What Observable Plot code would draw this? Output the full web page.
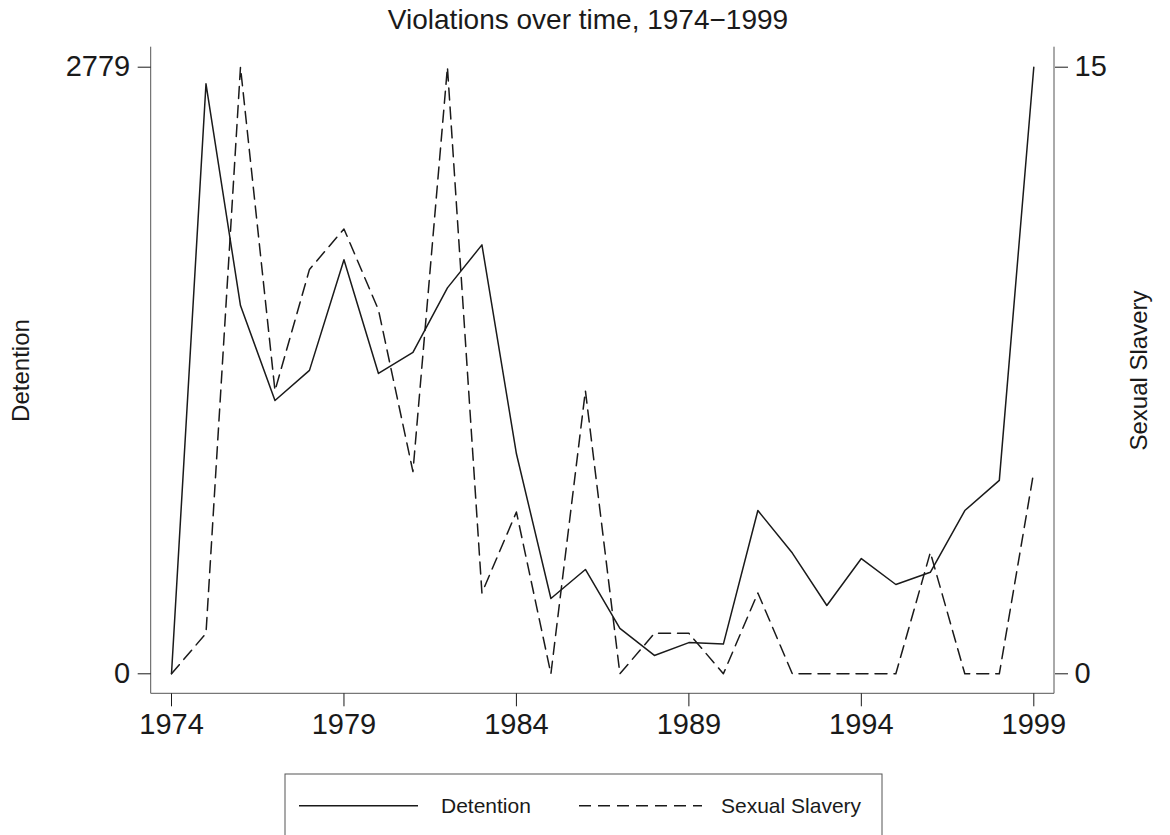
<!DOCTYPE html>
<html><head><meta charset="utf-8">
<script src="https://cdn.jsdelivr.net/npm/d3@7"></script>
<script src="https://cdn.jsdelivr.net/npm/@observablehq/plot@0.6"></script>
<style>
body{margin:0;background:#fff;font-family:"Liberation Sans",Arial,Helvetica,sans-serif;color:#1a1a1a}
#wrap{width:1170px;position:relative}
#title{height:40px;line-height:40px;text-align:center;font-size:28px;padding-left:6px;box-sizing:border-box;white-space:nowrap}
#chart svg, #legend svg{display:block}
</style></head><body>
<div id="wrap"><div id="title"></div><div id="chart"></div><div id="legend"></div></div>
<script>
const years = [1974,1975,1976,1977,1978,1979,1980,1981,1982,1983,1984,1985,1986,1987,1988,1989,1990,1991,1992,1993,1994,1995,1996,1997,1998,1999];
const detention = [0,2703,1687,1252,1390,1897,1376,1473,1768,1965,1008,345,478,208,84,143,136,748,553,313,528,409,465,748,886,2779];
const sexualSlavery = [0,1,15,7,10,11,9,5,15,2,4,0,7,0,1,1,0,2,0,0,0,0,3,0,0,5];
const xTicks = [1974,1979,1984,1989,1994,1999];
const leftTicks = [0,2779];
const rightTicks = [0,15];
const seriesNames = ["Detention","Sexual Slavery"];
const titleText = "Violations over time, 1974\u22121999";

const ink = "#1a1a1a";
const font = '"Liberation Sans", Arial, Helvetica, sans-serif';
const leftMax = leftTicks[1], rightMax = rightTicks[1];
const rows = years.map((year, i) => ({year, detention: detention[i], slavery: sexualSlavery[i]}));

document.getElementById("title").textContent = titleText;

function axisLines(index, scales, values, dimensions) {
  const dims = [...arguments].find(a => a && typeof a === "object" && "marginLeft" in a && "width" in a);
  const {width, height, marginLeft, marginRight, marginTop, marginBottom} = dims;
  const l = marginLeft, r = width - marginRight, t = marginTop, b = height - marginBottom;
  const g = d3.create("svg:g").attr("fill", "none").attr("stroke", "#555").attr("stroke-width", 1);
  g.append("path").attr("d", `M${l},${t}V${b}H${r}V${t}`);
  return g.node();
}

const chart = Plot.plot({
  width: 1170,
  height: 720,
  marginLeft: 150.7,
  marginRight: 116,
  marginTop: 6.7,
  marginBottom: 66.7,
  x: {domain: [years[0], years[years.length - 1]], insetLeft: 20.3, insetRight: 20.7},
  y: {domain: [0, leftMax], insetTop: 20, insetBottom: 20},
  style: {fontFamily: font, color: ink, background: "white", overflow: "visible"},
  marks: [
    axisLines,
    Plot.axisX({ticks: xTicks, tickFormat: d => String(d), tickSize: 13, tickPadding: 7, fontSize: 29, label: null}),
    Plot.axisY({ticks: leftTicks, tickFormat: d => String(d), tickSize: 13, tickPadding: 8, fontSize: 29, label: null}),
    Plot.axisY({anchor: "right", ticks: leftTicks, tickFormat: d => String(Math.round(d / leftMax * rightMax)), tickSize: 13, tickPadding: 7, fontSize: 29, label: null}),
    Plot.line(rows, {x: "year", y: "detention", stroke: ink, strokeWidth: 1.5}),
    Plot.line(rows, {x: "year", y: d => d.slavery * leftMax / rightMax, stroke: ink, strokeWidth: 1.5, strokeDasharray: "12,7"}),
    Plot.text([seriesNames[0]], {text: d => d, frameAnchor: "left", textAnchor: "middle", rotate: -90, dx: -130, fontSize: 24, fill: ink}),
    Plot.text([seriesNames[1]], {text: d => d, frameAnchor: "right", textAnchor: "middle", rotate: -90, dx: 84.5, fontSize: 24, fill: ink})
  ]
});
document.getElementById("chart").appendChild(chart);

// legend below the chart
const lg = d3.create("svg").attr("width", 1170).attr("height", 80).style("font-family", font);
lg.append("rect").attr("x", 285).attr("y", 14).attr("width", 597).attr("height", 64)
  .attr("fill", "white").attr("stroke", "#555").attr("stroke-width", 1);
const rowY = 45.7;
const items = [
  {name: seriesNames[0], x1: 299, x2: 418, tx: 441, dash: null},
  {name: seriesNames[1], x1: 579, x2: 702, tx: 721, dash: "12,7"}
];
for (const it of items) {
  const ln = lg.append("line").attr("x1", it.x1).attr("x2", it.x2).attr("y1", rowY).attr("y2", rowY)
    .attr("stroke", ink).attr("stroke-width", 1.5);
  if (it.dash) ln.attr("stroke-dasharray", it.dash);
  lg.append("text").attr("x", it.tx).attr("y", rowY).attr("dy", "0.35em").attr("font-size", 21)
    .attr("fill", ink).text(it.name);
}
document.getElementById("legend").appendChild(lg.node());
</script>
</body></html>
